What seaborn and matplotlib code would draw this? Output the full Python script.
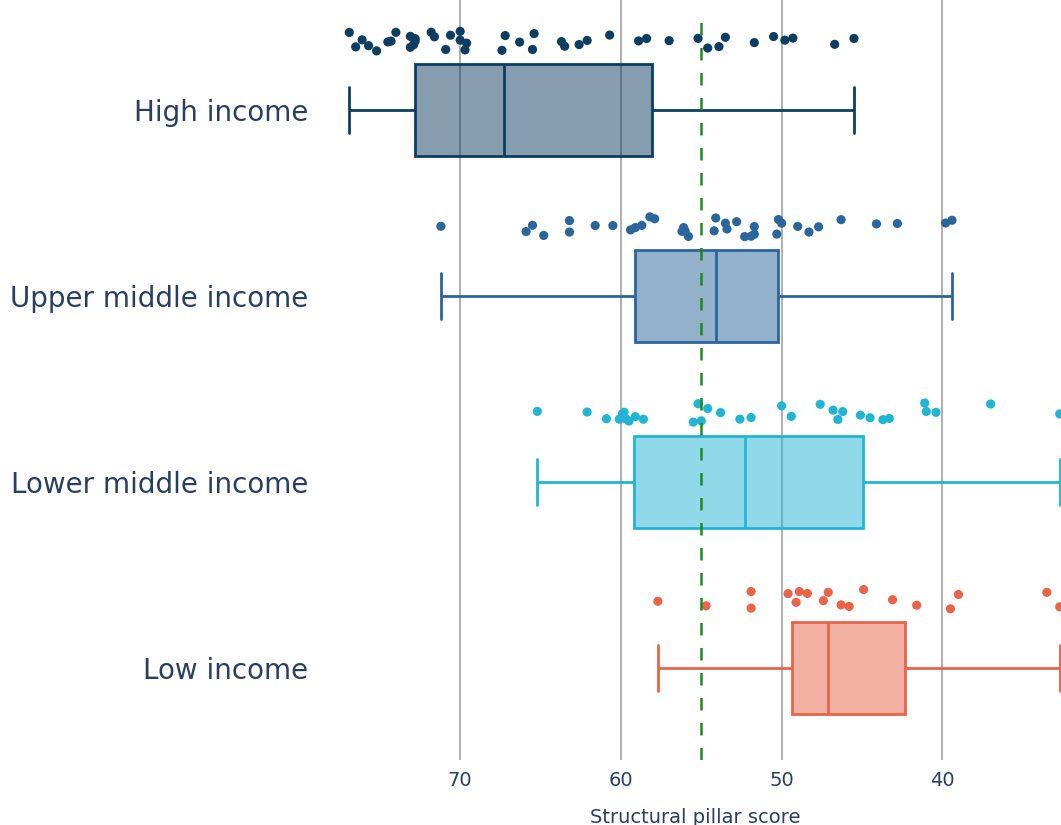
import numpy as np
import pandas as pd
import matplotlib
matplotlib.use("Agg")
import matplotlib.pyplot as plt
from matplotlib.colors import to_rgba
import seaborn as sns

# Structural pillar scores by income group
groups = ["High income", "Upper middle income", "Lower middle income", "Low income"]
colors = ["#0e3d62", "#2a659b", "#22b5d3", "#e8654a"]

high_income = [76.9, 76.5, 76.1, 75.7, 75.2, 74.5, 74.3, 74.0, 73.1, 72.8, 72.9,
               73.1, 72.8, 71.8, 71.6, 70.9, 70.6, 70.0, 69.7, 70.0, 69.6, 67.4,
               67.2, 66.3, 65.5, 65.4, 63.7, 63.5, 62.6, 62.1, 60.7, 58.9, 58.4,
               57.0, 55.2, 54.6, 53.9, 53.5, 51.7, 50.5, 49.8, 49.3, 46.7, 45.5]
upper_middle = [71.2, 65.9, 65.5, 64.8, 63.2, 63.2, 61.6, 60.5, 59.4, 59.1, 58.7,
                58.2, 57.9, 56.2, 56.1, 56.0, 55.8, 54.2, 54.1, 53.5, 53.4, 52.8,
                52.3, 51.9, 51.7, 51.7, 50.3, 50.2, 50.0, 49.0, 48.3, 47.7, 46.3,
                44.1, 42.8, 39.8, 39.4]
lower_middle = [65.2, 62.1, 60.9, 60.1, 59.9, 59.8, 59.7, 59.5, 59.1, 58.6, 55.5,
                55.2, 55.0, 54.6, 53.8, 52.6, 51.9, 50.0, 49.4, 47.6, 46.8, 46.5,
                46.2, 45.1, 44.5, 43.7, 43.3, 41.1, 41.0, 40.4, 37.0, 32.7]
low_income = [57.7, 54.7, 51.9, 51.9, 49.6, 49.1, 48.9, 48.4, 47.4, 47.1, 46.3,
              45.8, 44.9, 43.1, 41.6, 39.5, 39.0, 33.5, 32.7]

reference_score = 55.0
x_ticks = [70, 60, 50, 40]
x_title = "Structural pillar score"

series = [high_income, upper_middle, lower_middle, low_income]
df = pd.DataFrame({
    "group": np.concatenate([[g] * len(v) for g, v in zip(groups, series)]),
    "score": np.concatenate(series),
})

sns.set_theme(style="white")
plt.rcParams["font.family"] = ["DejaVu Sans"]
text_color = "#2a3f5f"

fig = plt.figure(figsize=(10.61, 8.25), dpi=100)
ax = fig.add_axes([0.311, 0.0788, 0.689, 0.9212])

for t in x_ticks:
    ax.axvline(t, color="#9a9a9a", linewidth=1.1, zorder=0.5)

# Boxes, one group at a time so each keeps its own colour
for g, c in zip(groups, colors):
    n_before = len(ax.patches)
    n_lines = len(ax.lines)
    sns.boxplot(data=df[df["group"] == g], x="score", y="group", order=groups,
                color=c, linecolor=c, saturation=1, width=0.495, linewidth=2.0,
                showfliers=False, whis=np.inf, ax=ax)
    for p in ax.patches[n_before:]:
        p.set_alpha(None)
        p.set_facecolor(to_rgba(c, 0.5))
        p.set_edgecolor(c)
        p.set_zorder(2)
    for ln in ax.lines[n_lines:]:
        ln.set_zorder(2.2)

# Individual countries drawn above each box
np.random.seed(7)
n_coll = len(ax.collections)
sns.stripplot(data=df, x="score", y="group", order=groups, hue="group",
              hue_order=groups, palette=colors, legend=False, jitter=0.055,
              size=6.6, linewidth=0, ax=ax, zorder=3)
for coll in ax.collections[n_coll:]:
    off = coll.get_offsets()
    if len(off):
        off = np.asarray(off).copy()
        off[:, 1] -= 0.37
        coll.set_offsets(off)

ax.axvline(reference_score, ymin=0, ymax=0.976, color="#1e8a1e", linewidth=1.8,
           linestyle=(0, (5, 5)), zorder=4)

ax.set_xlim(78.1, 32.62)
ax.set_ylim(3.495, -0.591)
ax.set_xticks(x_ticks)
ax.set_xticklabels([str(t) for t in x_ticks])
ax.tick_params(axis="x", length=0, pad=8, labelsize=14, labelcolor=text_color)
ax.tick_params(axis="y", length=0, pad=15.5, labelsize=20, labelcolor=text_color)
ax.set_xlabel(x_title, fontsize=14, color=text_color, labelpad=13)
ax.set_ylabel("")
for s in ax.spines.values():
    s.set_visible(False)
ax.grid(False)

fig.savefig("out.png", dpi=100)
